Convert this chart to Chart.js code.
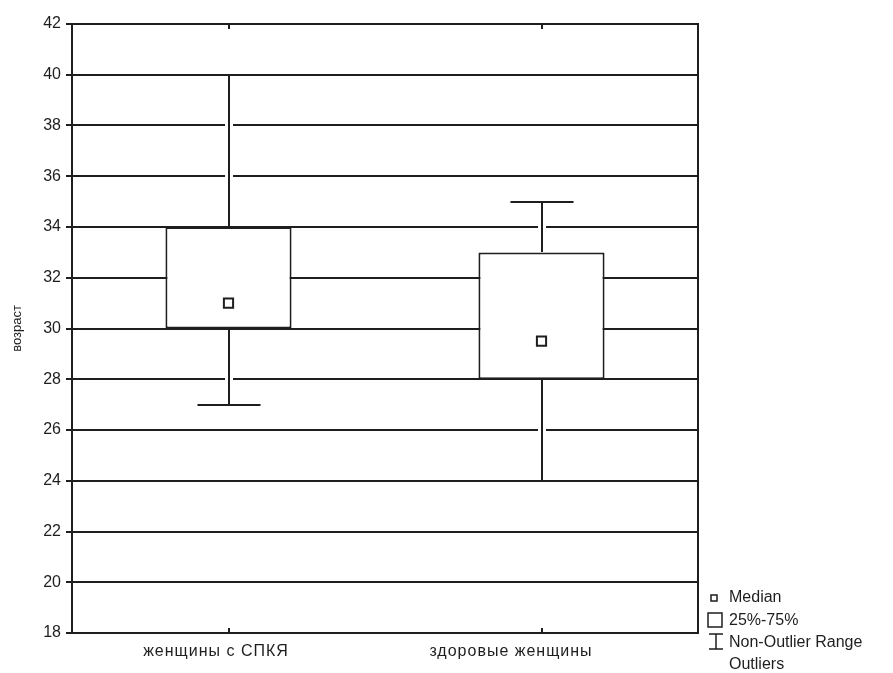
<!DOCTYPE html>
<html>
<head>
<meta charset="utf-8">
<script src="https://cdn.jsdelivr.net/npm/chart.js@4"></script>
<style>
  html, body { margin: 0; padding: 0; background: #fff; }
  #wrap { width: 893px; height: 673px; }
</style>
</head>
<body>
<div id="wrap"><canvas id="ctx" width="893" height="673"></canvas></div>
<script>
const groups = ["женщины с СПКЯ", "здоровые женщины"];
const medians = [31, 29.5];
const q1 = [30, 28];
const q3 = [34, 33];
const whiskLow = [27, 24];
const whiskHigh = [40, 35];
const yTicks = [18, 20, 22, 24, 26, 28, 30, 32, 34, 36, 38, 40, 42];
const legendItems = ["Median", "25%-75%", "Non-Outlier Range", "Outliers"];

const ink = "#1e1e1e";
const fontFam = "'Liberation Sans', Arial, sans-serif";
const labelShift = [-13, -31];

// whiskers, frame, category labels and legend
const boxExtras = {
    id: "boxExtras",
    beforeDatasetsDraw(chart) {
        const c = chart.ctx;
        const y = chart.scales.y;
        const bars = chart.getDatasetMeta(0).data;
        c.save();
        bars.forEach((bar, i) => {
            const cx = Math.round(bar.x);
            const capW = bar.width / 2;
            const segs = [[q3[i], whiskHigh[i]], [q1[i], whiskLow[i]]];
            segs.forEach(([from, to]) => {
                const y0 = Math.round(y.getPixelForValue(from));
                const y1 = Math.round(y.getPixelForValue(to));
                const dir = y1 > y0 ? 1 : -1;
                // white halo that breaks grid lines
                c.strokeStyle = "#fff";
                c.lineWidth = 8;
                c.beginPath();
                c.moveTo(cx, y0 + dir * 2);
                c.lineTo(cx, y1 - dir * 3);
                c.stroke();
                c.strokeStyle = ink;
                c.lineWidth = 2;
                c.beginPath();
                c.moveTo(cx, y0);
                c.lineTo(cx, y1);
                c.moveTo(cx - capW / 2, y1);
                c.lineTo(cx + capW / 2, y1);
                c.stroke();
            });
        });
        c.restore();
    },
    afterDraw(chart) {
        const c = chart.ctx;
        const a = chart.chartArea;
        c.save();
        c.strokeStyle = ink;
        c.lineWidth = 2;
        c.strokeRect(a.left, a.top, a.right - a.left, a.bottom - a.top);
        c.fillStyle = ink;
        chart.getDatasetMeta(0).data.forEach((bar, i) => {
            const cx = Math.round(bar.x);
            // small inward ticks at category centres
            c.beginPath();
            c.moveTo(cx, a.top);
            c.lineTo(cx, a.top + 5);
            c.moveTo(cx, a.bottom);
            c.lineTo(cx, a.bottom - 5);
            c.stroke();
            c.font = "16px " + fontFam;
            c.letterSpacing = "1px";
            c.textAlign = "center";
            c.textBaseline = "middle";
            c.fillText(groups[i], cx + labelShift[i], a.bottom + 19);
        });
        c.letterSpacing = "0px";
        // legend
        const lx = 729;
        const ys = [598, 621, 643, 665];
        c.lineWidth = 1.5;
        c.strokeRect(711, 595, 6, 6);
        c.strokeRect(708, 613, 14, 14);
        c.beginPath();
        c.moveTo(709, 634); c.lineTo(723, 634);
        c.moveTo(716, 634); c.lineTo(716, 649);
        c.moveTo(709, 649); c.lineTo(723, 649);
        c.stroke();
        c.font = "16px " + fontFam;
        c.textBaseline = "middle";
        c.textAlign = "left";
        legendItems.forEach((t, i) => c.fillText(t, lx, ys[i]));
        c.restore();
    }
};

const chart = new Chart(document.getElementById("ctx"), {
    data: {
        labels: groups,
        datasets: [{
            type: "bar",
            label: "25%-75%",
            data: q1.map((v, i) => [v, q3[i]]),
            backgroundColor: "#ffffff",
            borderColor: ink,
            borderWidth: 2,
            borderSkipped: false,
            barPercentage: 0.403,
            categoryPercentage: 1,
            order: 2
        }, {
            type: "line",
            label: "Median",
            data: medians,
            showLine: false,
            pointStyle: "rect",
            pointRadius: 6.5,
            pointBorderWidth: 2,
            pointBackgroundColor: "#ffffff",
            pointBorderColor: ink,
            order: 1
        }]
    },
    options: {
        responsive: false,
        animation: false,
        layout: {
            padding: { left: 0, right: 195, top: 24, bottom: 0 }
        },
        plugins: {
            legend: { display: false },
            tooltip: { enabled: false }
        },
        scales: {
            x: {
                offset: true,
                grid: { display: false },
                border: { display: false },
                ticks: { display: false },
                afterFit(axis) { axis.height = 40; }
            },
            y: {
                min: 18,
                max: 42,
                afterBuildTicks(axis) { axis.ticks = yTicks.map(v => ({ value: v })); },
                grid: {
                    color: ink,
                    lineWidth: 2,
                    drawTicks: true,
                    tickLength: 6,
                    tickColor: ink
                },
                border: { display: false },
                ticks: {
                    color: ink,
                    font: { size: 16, family: fontFam },
                    padding: 5
                },
                title: {
                    display: true,
                    text: "возраст",
                    color: ink,
                    font: { size: 13, family: fontFam },
                    padding: { top: 10, bottom: 0 }
                },
                afterFit(axis) { axis.width = 72; }
            }
        }
    },
    plugins: [boxExtras]
});
</script>
</body>
</html>
